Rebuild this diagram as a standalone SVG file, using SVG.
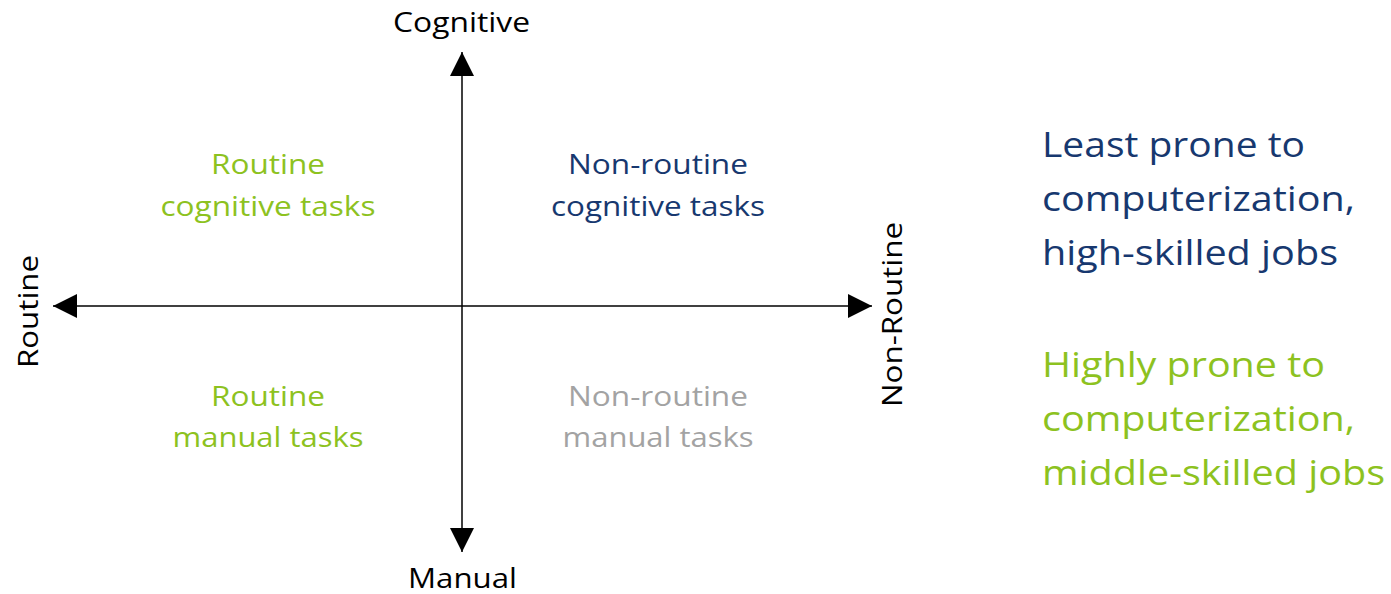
<svg xmlns="http://www.w3.org/2000/svg" width="1391" height="594" viewBox="0 0 1391 594">
<defs>
<style>
text{font-family:"Open Sans","Noto Sans","Liberation Sans",sans-serif}
.ax{font-size:27px;fill:#000}
.q{font-size:28px;text-anchor:middle}
.r{font-size:35px}
.g{fill:#8DC21F}
.b{fill:#17386F}
.s{fill:#A3A3A3}
.c{stroke:#000;stroke-width:1.5;fill:none}
</style>
<marker id="ah" viewBox="0 0 10 10" refX="10" refY="5" markerWidth="27" markerHeight="24" markerUnits="userSpaceOnUse" orient="auto">
<path d="M0,0 L10,5 L0,10 Z" fill="#000"/>
</marker>
</defs>
<rect width="1391" height="594" fill="#fff"/>
<g id="connectors">
<line class="c" x1="462" y1="306" x2="462" y2="52" marker-end="url(#ah)"/>
<line class="c" x1="462" y1="306" x2="462" y2="552" marker-end="url(#ah)"/>
<line class="c" x1="462" y1="306" x2="53" y2="306" marker-end="url(#ah)"/>
<line class="c" x1="462" y1="306" x2="872" y2="306" marker-end="url(#ah)"/>
</g>
<g id="axis-cognitive"><text class="ax" x="393" y="32" textLength="137" lengthAdjust="spacingAndGlyphs">Cognitive</text></g>
<g id="axis-manual"><text class="ax" x="408" y="588" textLength="109" lengthAdjust="spacingAndGlyphs">Manual</text></g>
<g id="axis-routine"><text class="ax" transform="translate(38,368) rotate(-90)" textLength="113" lengthAdjust="spacingAndGlyphs">Routine</text></g>
<g id="axis-nonroutine"><text class="ax" transform="translate(902,407) rotate(-90)" textLength="185" lengthAdjust="spacingAndGlyphs">Non-Routine</text></g>
<g id="q-routine-cognitive">
<text class="q g" x="268" y="174" textLength="114" lengthAdjust="spacingAndGlyphs">Routine</text>
<text class="q g" x="268" y="216" textLength="215" lengthAdjust="spacingAndGlyphs">cognitive tasks</text>
</g>
<g id="q-nonroutine-cognitive">
<text class="q b" x="658" y="174" textLength="180" lengthAdjust="spacingAndGlyphs">Non-routine</text>
<text class="q b" x="658" y="216" textLength="214" lengthAdjust="spacingAndGlyphs">cognitive tasks</text>
</g>
<g id="q-routine-manual">
<text class="q g" x="268" y="406" textLength="114" lengthAdjust="spacingAndGlyphs">Routine</text>
<text class="q g" x="268" y="447" textLength="191" lengthAdjust="spacingAndGlyphs">manual tasks</text>
</g>
<g id="q-nonroutine-manual">
<text class="q s" x="658" y="406" textLength="180" lengthAdjust="spacingAndGlyphs">Non-routine</text>
<text class="q s" x="658" y="447" textLength="191" lengthAdjust="spacingAndGlyphs">manual tasks</text>
</g>
<g id="legend-least">
<text class="r b" x="1042" y="157" textLength="263" lengthAdjust="spacingAndGlyphs">Least prone to</text>
<text class="r b" x="1042" y="211" textLength="313" lengthAdjust="spacingAndGlyphs">computerization,</text>
<text class="r b" x="1042" y="265" textLength="296" lengthAdjust="spacingAndGlyphs">high-skilled jobs</text>
</g>
<g id="legend-highly">
<text class="r g" x="1042" y="377" textLength="283" lengthAdjust="spacingAndGlyphs">Highly prone to</text>
<text class="r g" x="1042" y="431" textLength="313" lengthAdjust="spacingAndGlyphs">computerization,</text>
<text class="r g" x="1042" y="485" textLength="343" lengthAdjust="spacingAndGlyphs">middle-skilled jobs</text>
</g>
</svg>
